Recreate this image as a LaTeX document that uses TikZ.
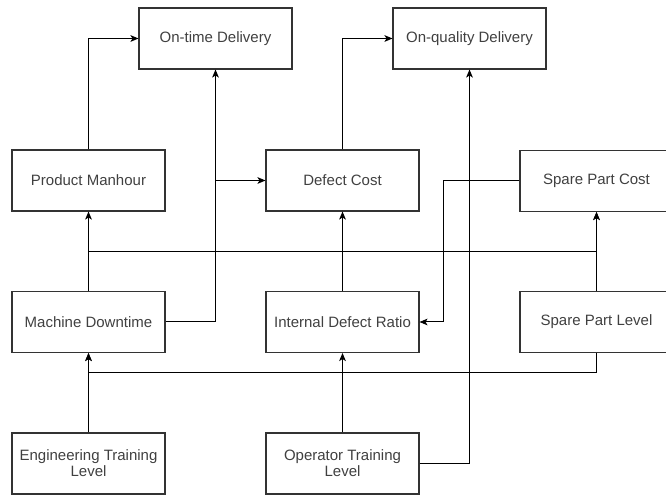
\documentclass[tikz,border=0pt]{standalone}
\usepackage{fontspec}
\setmainfont{Liberation Sans}
\usetikzlibrary{positioning,arrows.meta}
\definecolor{boxline}{RGB}{51,51,51}
\definecolor{boxtext}{RGB}{64,64,64}

\begin{document}
\begin{tikzpicture}[x=0.75pt, y=0.75pt,
  b/.style={draw=boxline, line width=0.8pt, align=center, minimum width=114.75pt,
    minimum height=45.75pt, inner sep=2pt, text=boxtext,
    font=\fontsize{11.25}{12}\selectfont},
  e/.style={-{Stealth[length=6pt,width=5pt,inset=1.5pt]}, line width=0.75pt}]
  \useasboundingbox (0,0) rectangle (666,495);
  \node[b] (otd) at (215.5,456.5) {On-time Delivery};
  \node[b] (oqd) at (469.5,456.5) {On-quality Delivery};
  \node[b] (pm)  at (88.5,314.5)  {Product Manhour};
  \node[b] (dc)  at (342.5,314.5) {Defect Cost};
  \node[b] (spc) at (596.5,314)   {Spare Part Cost};
  \node[b] (md)  at (88.5,173)    {Machine Downtime};
  \node[b] (idr) at (342.5,173)   {Internal Defect Ratio};
  \node[b] (spl) at (596.5,173)   {Spare Part Level};
  \node[b] (etl) at (88.5,31.5)   {Engineering Training\\ Level};
  \node[b] (otl) at (342.5,31.5)  {Operator Training\\ Level};
  \coordinate (up) at (0,243);
  \coordinate (lo) at (0,122);
  \coordinate (j) at (otd.south |- dc.west);
  \draw[e] (pm.north) |- (otd.west);
  \draw[e] (dc.north) |- (oqd.west);
  \draw[e] (md.east) -| (otd.south);
  \draw[e] (j) -- (dc.west);
  \draw[e] (otl.east) -| (oqd.south);
  \draw[e] (spc.west) -- ++(-76,0) |- (idr.east);
  \draw[e] (idr) -- (dc);
  \draw[e] (md) -- (pm);
  \draw[e] (md.north) -- (md.north |- up) -| (spc.south);
  \draw[e] (spl) -- (spc);
  \draw[e] (spl.south) -- (spl.south |- lo) -| (md.south);
  \draw[e] (etl) -- (md);
  \draw[e] (otl) -- (idr);
\end{tikzpicture}
\end{document}
